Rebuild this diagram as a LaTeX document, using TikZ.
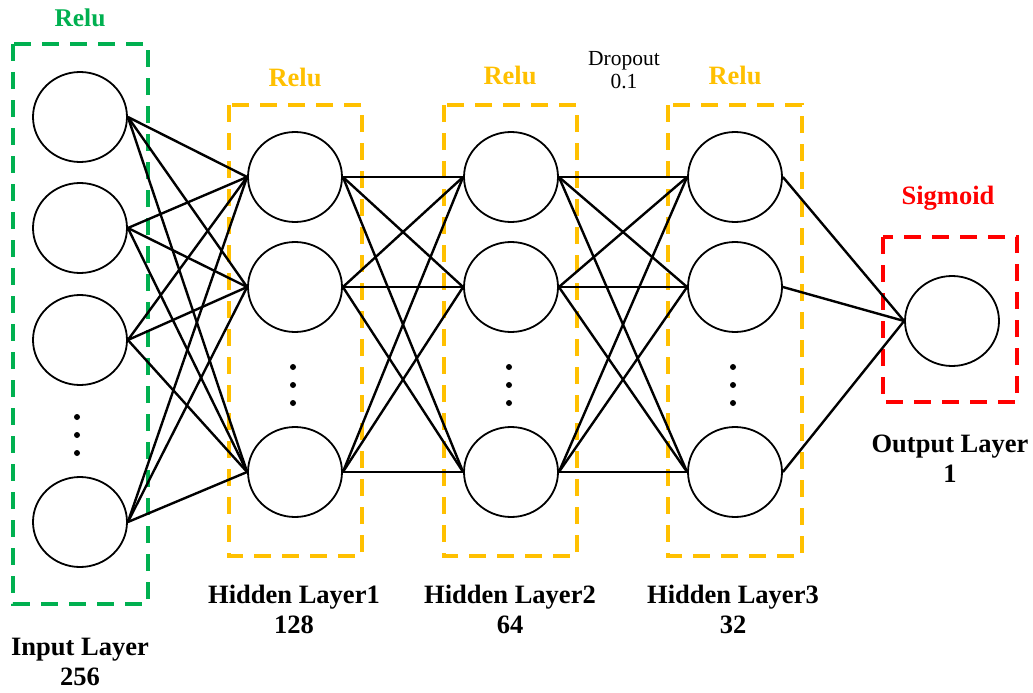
\documentclass[tikz,border=0pt]{standalone}
\usepackage{fontspec}
\setmainfont{Liberation Serif}
\definecolor{rgreen}{HTML}{00B050}
\definecolor{ryellow}{HTML}{FFC000}
\definecolor{rred}{HTML}{FF0000}
\begin{document}
\begin{tikzpicture}[x=1pt,y=-1pt,
  neuron/.style={draw,line width=1.8pt,ellipse,minimum width=94pt,minimum height=90pt,inner sep=0pt},
  conn/.style={line width=2.4pt},
  actbox/.style={dashed,line width=4pt,dash pattern=on 17pt off 11pt},
  lbl/.style={font=\fontsize{26.5}{30}\selectfont\bfseries,align=center,inner sep=0pt},
  acttxt/.style={font=\fontsize{26.5}{30}\selectfont\bfseries,inner sep=0pt},
  dotmark/.style={fill,circle,inner sep=0pt,minimum size=6pt}]
\usetikzlibrary{shapes.geometric}
\useasboundingbox (0,0) rectangle (1033,693);
% boxes
\draw[actbox,rgreen] (13,44) rectangle (148,604);
\draw[actbox,ryellow] (229,105) rectangle (362,556);
\draw[actbox,ryellow] (444,105) rectangle (577,556);
\draw[actbox,ryellow] (668,105) rectangle (802,556);
\draw[actbox,rred] (883,237) rectangle (1017,402);
% activation labels
\node[acttxt,text=rgreen,font=\fontsize{25.5}{30}\selectfont\bfseries] (r0) at (80,18) {Relu};
\node[acttxt,text=ryellow] (r1) at (295,77) {Relu};
\node[acttxt,text=ryellow] (r2) at (510,75) {Relu};
\node[acttxt,text=ryellow] (r3) at (735,75) {Relu};
\node[acttxt,text=rred] (rs) at (948,198) {Sigmoid};
\node[font=\fontsize{21.5}{25}\selectfont,align=center,inner sep=0pt] (dp) at (624,70) {Dropout\\[-2pt]0.1};
% neurons
\node[neuron] (i1) at (80,117) {};
\node[neuron] (i2) at (80,228) {};
\node[neuron] (i3) at (80,340) {};
\node[neuron] (i4) at (80,522) {};
\foreach \x/\n in {295/a,511/b,735/c}{
  \node[neuron] (\n1) at (\x,177) {};
  \node[neuron] (\n2) at (\x,287) {};
  \node[neuron] (\n3) at (\x,472) {};
  \node[dotmark] (\n d1) at (\x-2,367) {};
  \node[dotmark] (\n d2) at (\x-2,385) {};
  \node[dotmark] (\n d3) at (\x-2,403) {};
}
\node[dotmark] (id1) at (77,417) {};
\node[dotmark] (id2) at (77,435) {};
\node[dotmark] (id3) at (77,453) {};
\node[neuron] (o) at (952,321) {};
% connections
\foreach \s in {i1,i2,i3,i4}{
  \foreach \t in {a1,a2,a3}{\draw[conn] (\s.east) -- (\t.west);}
}
\foreach \s in {a1,a2,a3}{
  \foreach \t in {b1,b2,b3}{\draw[conn] (\s.east) -- (\t.west);}
}
\foreach \s in {b1,b2,b3}{
  \foreach \t in {c1,c2,c3}{\draw[conn] (\s.east) -- (\t.west);}
}
\foreach \s in {c1,c2,c3}{\draw[conn] (\s.east) -- (o.west);}
% layer labels
\node[lbl] (li) at (80,662) {Input Layer\\256};
\node[lbl] (l1) at (294,609) {Hidden Layer1\\128};
\node[lbl] (l2) at (510,609) {Hidden Layer2\\64};
\node[lbl] (l3) at (733,609) {Hidden Layer3\\32};
\node[lbl] (lo) at (950,459) {Output Layer\\1};
\end{tikzpicture}
\end{document}
